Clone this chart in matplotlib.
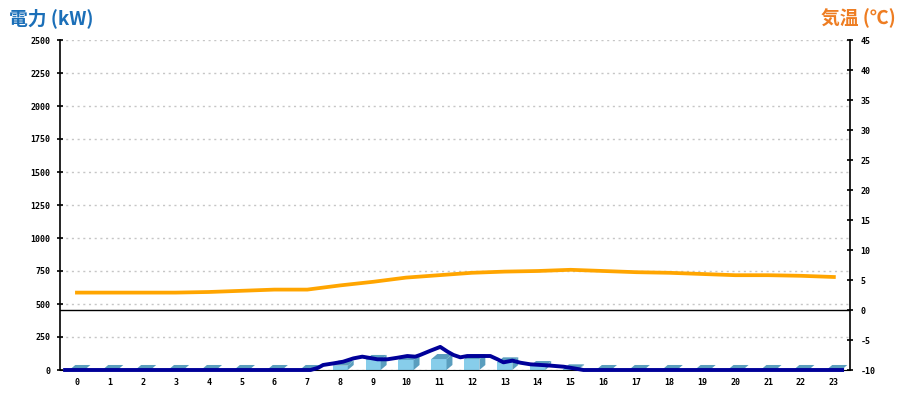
import matplotlib
matplotlib.use("Agg")
import matplotlib.pyplot as plt

plt.rcParams["axes.unicode_minus"] = False

# ---------------------------------------------------------------------------
# data
# ---------------------------------------------------------------------------
hours = list(range(24))

# hourly power (kW), drawn as 3D bars
power_bar = [0, 0, 0, 0, 0, 0, 0, 0, 33, 76, 76, 83, 83, 58, 30, 5,
             0, 0, 0, 0, 0, 0, 0, 0]

# finer power trace (kW) over fractional hours
line_x = [-0.42, 7.1, 7.33, 7.48, 7.79, 8.09, 8.40, 8.67, 8.91, 9.13, 9.43,
          9.74, 10.04, 10.28, 10.43, 10.74, 11.04, 11.26, 11.44, 11.65,
          11.86, 12.56, 12.78, 12.96, 13.23, 13.48, 13.78, 14.30, 14.79,
          15.09, 15.39, 23.31]
line_y = [0, 0, 17, 38, 50, 63, 88, 101, 91, 81, 81, 93, 106, 101, 114, 146,
          175, 139, 114, 96, 106, 106, 81, 58, 71, 55, 43, 35, 25, 13, 0, 0]

# hourly temperature (deg C)
temp = [2.9, 2.9, 2.9, 2.9, 3.0, 3.2, 3.4, 3.4, 4.1, 4.7, 5.4, 5.8,
        6.2, 6.4, 6.5, 6.7, 6.5, 6.3, 6.2, 6.0, 5.8, 5.8, 5.7, 5.5]

kw_ticks = list(range(0, 2501, 250))
t_ticks = list(range(-10, 46, 5))

# ---------------------------------------------------------------------------
# figure
# ---------------------------------------------------------------------------
FRONT = "#87cdea"
SHADE = "#5a9ebe"
NAVY = "#000099"
ORANGE = "#ffa500"

fig = plt.figure(figsize=(9, 4), dpi=100)
ax = fig.add_axes([0.0672, 0.075, 0.8776, 0.825])
ax.set_xlim(-0.5, 23.5)
ax.set_ylim(0, 2500)

# 3D-looking bars: front face + top + side
bw = 0.46
dx, dy = 0.18, 38
ax.bar(hours, power_bar, width=bw, color=FRONT, zorder=2)
for h, v in zip(hours, power_bar):
    x0, x1 = h - bw / 2, h + bw / 2
    ax.fill([x0, x1, x1 + dx, x0 + dx], [v, v, v + dy, v + dy],
            color=SHADE, lw=0, zorder=2)
    if v > 0:
        ax.fill([x1, x1 + dx, x1 + dx, x1], [0, dy, v + dy, v],
                color=SHADE, lw=0, zorder=2)

ax.plot(line_x, line_y, color=NAVY, lw=2.8, zorder=4, clip_on=False,
        solid_capstyle="butt", solid_joinstyle="round")

ax.set_yticks(kw_ticks)
ax.set_xticks(hours)
ax.yaxis.grid(True, color="#c6c6c6", linestyle=(0, (1.5, 2.6)), lw=1)
ax.set_axisbelow(True)
ax.tick_params(axis="y", direction="inout", length=5, width=1.2, pad=5,
               labelsize=6)
ax.tick_params(axis="x", length=0, pad=6, labelsize=6)
ax.spines["top"].set_visible(False)
ax.spines["right"].set_visible(False)
ax.spines["left"].set_linewidth(1.2)

ax2 = ax.twinx()
ax2.set_ylim(-10, 45)
ax2.set_yticks(t_ticks)
ax2.plot(hours, temp, color=ORANGE, lw=2.7, zorder=5)
ax2.axhline(0, color="black", lw=1)
ax2.tick_params(axis="y", direction="inout", length=5, width=1.2, pad=5,
                labelsize=6)
ax2.spines["top"].set_visible(False)
ax2.spines["left"].set_visible(False)
ax2.spines["bottom"].set_visible(False)
ax2.spines["right"].set_linewidth(1.2)

for t in ax.get_yticklabels() + ax.get_xticklabels() + ax2.get_yticklabels():
    t.set_family("DejaVu Sans Mono")
    t.set_fontweight("bold")

jp = ["Noto Sans CJK JP", "DejaVu Sans"]
fig.text(0.010, 0.955, "電力 (kW)", family=jp, fontsize=13.5,
         fontweight="bold", color="#1b6fb8", va="center", ha="left")
fig.text(0.995, 0.955, "気温 (℃)", family=jp, fontsize=13.5,
         fontweight="bold", color="#ee7d22", va="center", ha="right")

fig.savefig("out.png", dpi=100)
